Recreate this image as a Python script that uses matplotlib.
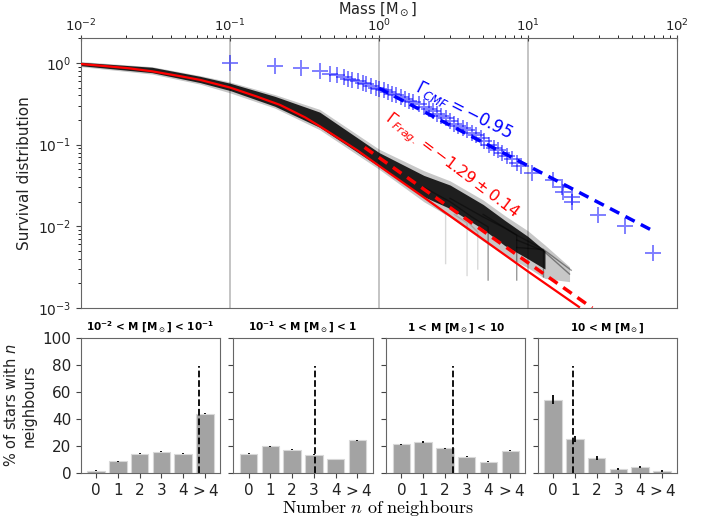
import numpy as np
import matplotlib
matplotlib.use("Agg")
import matplotlib.pyplot as plt

# ---- data ----
# CMF survival distribution (blue crosses)
cmf_mass = [0.10, 0.20, 0.30, 0.40, 0.47, 0.52, 0.58, 0.62, 0.66, 0.72, 0.78, 0.82,
            0.88, 0.95, 1.00, 1.08, 1.15, 1.22, 1.30, 1.40, 1.50, 1.60, 1.70, 1.85,
            2.00, 2.15, 2.30, 2.45, 2.60, 2.80, 3.00, 3.20, 3.40, 3.65, 3.90, 4.20,
            4.50, 4.80, 5.10, 5.50, 5.90, 6.30, 6.70, 7.20, 7.80, 8.40, 9.00, 10.7,
            14.7, 16.9, 17.3, 19.7, 19.7, 29.5, 44.5, 69.0]
cmf_surv = [1.00, 0.93, 0.87, 0.79, 0.74, 0.71, 0.67, 0.64, 0.62, 0.60, 0.57, 0.55,
            0.52, 0.50, 0.48, 0.46, 0.44, 0.42, 0.40, 0.38, 0.36, 0.345, 0.33, 0.31,
            0.29, 0.27, 0.255, 0.24, 0.225, 0.21, 0.195, 0.18, 0.17, 0.16, 0.15, 0.14,
            0.13, 0.12, 0.11, 0.10, 0.092, 0.085, 0.078, 0.072, 0.066, 0.060, 0.055, 0.045,
            0.037, 0.030, 0.026, 0.020, 0.023, 0.0138, 0.0100, 0.0047]
cmf_fit_mass = [1.0, 69.0]
cmf_fit_surv = [0.49, 0.0088]

# fragmentation fit (red)
frag_mass = [0.01, 0.015, 0.021, 0.03, 0.046, 0.063, 0.1, 0.15, 0.217, 0.32, 0.4,
             0.71, 1.0, 2.0, 5.0, 10.0, 22.0]
frag_surv = [0.97, 0.91, 0.86, 0.79, 0.69, 0.62, 0.50, 0.39, 0.306, 0.215, 0.168,
             0.086, 0.055, 0.0226, 0.0069, 0.0028, 0.00103]
frag_dash_mass = [0.8, 27.0]
frag_dash_surv = [0.0925, 0.0010]

# ensemble of realisations (black band): envelopes
band_mass = [0.01, 0.03, 0.063, 0.1, 0.2, 0.4, 1.0, 2.0, 3.0, 5.0, 7.0, 10.0, 13.0, 19.0]
outer_hi = [1.04, 0.90, 0.70, 0.585, 0.41, 0.27, 0.088, 0.048, 0.036, 0.021, 0.0135, 0.0088, 0.0059, 0.0032]
outer_lo = [0.90, 0.73, 0.55, 0.43, 0.28, 0.152, 0.050, 0.020, 0.013, 0.0066, 0.0044, 0.0031, 0.0023, 0.0021]
inner_mass = [0.01, 0.03, 0.063, 0.1, 0.2, 0.4, 1.0, 2.0, 3.0, 5.0, 7.0, 10.0, 13.0]
inner_hi = [1.02, 0.885, 0.685, 0.565, 0.39, 0.25, 0.080, 0.042, 0.032, 0.0185, 0.0118, 0.0075, 0.0050]
inner_lo = [0.925, 0.76, 0.575, 0.46, 0.295, 0.163, 0.054, 0.023, 0.0165, 0.0092, 0.0058, 0.0040, 0.0030]
strands = [
    ([2.0, 3.0, 4.2, 5.4, 5.4], [0.030, 0.020, 0.013, 0.0098, 0.0022]),
    ([3.0, 5.0, 7.0, 8.4, 8.4], [0.022, 0.013, 0.0095, 0.0078, 0.0022]),
    ([5.0, 8.4, 12.7, 12.7], [0.014, 0.0078, 0.0052, 0.0024]),
    ([8.4, 12.7, 19.0], [0.0068, 0.0050, 0.0026]),
    ([8.4, 12.7, 19.5], [0.0055, 0.0052, 0.0029]),
]
faint_strands = [
    ([2.2, 2.8, 2.8], [0.020, 0.014, 0.0035]),
    ([3.2, 3.9, 3.9], [0.014, 0.011, 0.0025]),
    ([4.0, 4.6, 4.6], [0.011, 0.0085, 0.003]),
]

# neighbour histograms
nb_labels = ['0', '1', '2', '3', '4', '$>4$']
titles = [r'$\mathbf{10^{-2}}$ < M [M$_\odot$] < $\mathbf{10^{-1}}$',
          r'$\mathbf{10^{-1}}$ < M [M$_\odot$] < 1',
          r'1 < M [M$_\odot$] < 10',
          r'10 < M [M$_\odot$]']
pct = [[1.7, 8.6, 14.3, 15.8, 14.3, 44.0],
       [14.3, 19.8, 17.3, 13.6, 10.4, 24.2],
       [21.2, 23.0, 18.3, 12.1, 8.3, 16.5],
       [54.3, 25.2, 10.9, 3.2, 4.4, 1.6]]
pct_err = [[0.3, 0.3, 0.4, 0.4, 0.4, 0.6],
           [0.3, 0.4, 0.4, 0.4, 0.3, 0.5],
           [0.4, 0.5, 0.5, 0.4, 0.4, 0.5],
           [3.5, 2.5, 1.5, 0.8, 1.0, 0.6]]
mean_n = [4.72, 3.07, 2.38, 0.9]
mean_top = 79

# ---- figure ----
fig = plt.figure(figsize=(7.13, 5.19), dpi=100)
W, H = 713.0, 519.0

ax = fig.add_axes([81 / W, 1 - 308 / H, (677 - 81) / W, (308 - 38) / H])
for v in [0.1, 1, 10]:
    ax.axvline(v, color='grey', alpha=0.5, lw=1.3, zorder=0)

ax.fill_between(band_mass, outer_lo, outer_hi, color='k', alpha=0.22, lw=0, zorder=1)
ax.fill_between(inner_mass, inner_lo, inner_hi, color='k', alpha=0.85, lw=0, zorder=1)
for sm, ss in strands:
    ax.plot(sm, ss, color='k', alpha=0.4, lw=1.0, zorder=1)
for sm, ss in faint_strands:
    ax.plot(sm, ss, color='k', alpha=0.15, lw=1.0, zorder=1)

ax.plot(frag_mass, frag_surv, color='red', lw=1.6, zorder=3)
ax.plot(frag_dash_mass, frag_dash_surv, color='red', lw=2.5, ls=(0, (3, 2)), zorder=3)
ax.plot(cmf_mass, cmf_surv, '+', color='blue', alpha=0.5, ms=12, mew=1.4, zorder=2)
ax.plot(cmf_fit_mass, cmf_fit_surv, color='blue', lw=2.5, ls=(0, (3, 2)), zorder=3)

ax.text(3.7, 0.265, r'$\Gamma_{CMF} = -0.95$', color='blue', fontsize=12,
        rotation=-27, ha='center', va='center', rotation_mode='anchor')
ax.text(3.09, 0.054, r'$\Gamma_{Frag.} = -1.29 \pm 0.14$', color='red', fontsize=11.5,
        rotation=-37, ha='center', va='center', rotation_mode='anchor')

ax.set_xscale('log')
ax.set_yscale('log')
ax.set_xlim(1e-2, 1e2)
ax.set_ylim(1e-3, 2.02)
ax.xaxis.tick_top()
fig.text(378 / W, 1 - 9 / H, r'Mass [M$_\odot$]', fontsize=10.5, color='#222222',
         ha='center', va='center')
ax.set_ylabel('Survival distribution', fontsize=11, color='#222222')
ax.tick_params(labelsize=10, colors='#444444', labelcolor='#222222')
ax.tick_params(axis='x', which='major', pad=1, length=4, direction='inout', labelsize=9.5)
ax.tick_params(axis='x', which='minor', length=2)
for s in ax.spines.values():
    s.set_color('#666666')

# ---- bottom panels ----
centers = [150.5, 303, 455.8, 607.5]
pw = 139
xpos = np.arange(len(nb_labels))
axs = []
for i in range(4):
    left = centers[i] - pw / 2
    a = fig.add_axes([left / W, 1 - 473 / H, pw / W, (473 - 338) / H])
    a.bar(xpos, pct[i], width=0.8, color='#a3a3a3', edgecolor='#d8d8d8', lw=0.8,
          yerr=pct_err[i], error_kw=dict(ecolor='k', elinewidth=1.3, capsize=0))
    a.vlines(mean_n[i], 0, mean_top, colors='k', linestyles='--', lw=1.3)
    a.set_ylim(0, 100)
    a.set_xticks(xpos)
    a.set_xticklabels(nb_labels)
    a.set_yticks([0, 20, 40, 60, 80, 100])
    a.set_title(titles[i], fontsize=7.5, fontweight='bold', pad=5)
    a.tick_params(labelsize=11, colors='#444444', labelcolor='#222222')
    if i > 0:
        a.set_yticklabels([])
    for s in a.spines.values():
        s.set_color('#666666')
    axs.append(a)

axs[0].set_ylabel('% of stars with $n$\nneighbours', fontsize=10.5, color='#222222')
fig.text(378 / W, 1 - 508 / H, r'$\mathrm{Number}\ n\ \mathrm{of\ neighbours}$',
         fontsize=13, ha='center', va='center', math_fontfamily='cm')

fig.savefig('out.png', dpi=100)
